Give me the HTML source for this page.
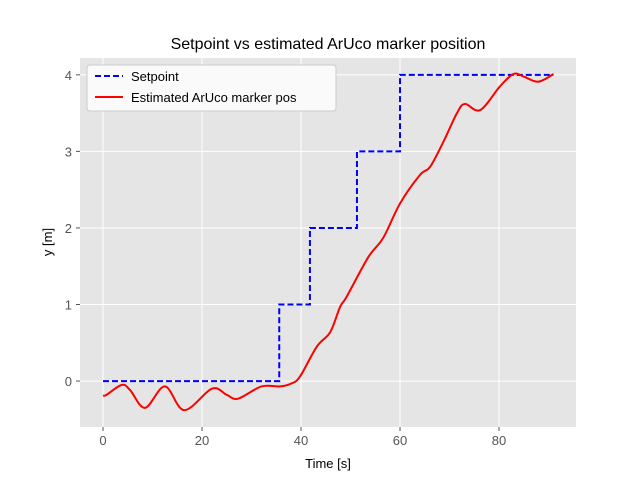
<!DOCTYPE html>
<html><head><meta charset="utf-8"><style>
body{margin:0;background:#fff;}
svg{font-family:"Liberation Sans","DejaVu Sans",sans-serif;}
</style></head><body>
<svg id="chart" width="640" height="480">
<rect x="0" y="0" width="640" height="480" fill="#fff"/>
<rect x="80" y="58" width="496" height="369" fill="#e5e5e5"/>
<g id="grid"></g><g id="ticks"></g>
<g id="series"></g>
<text x="328" y="49" text-anchor="middle" font-size="16" fill="#000">Setpoint vs estimated ArUco marker position</text>
<text x="328" y="468" text-anchor="middle" font-size="13" fill="#000">Time [s]</text>
<text x="52" y="242" text-anchor="middle" font-size="13" fill="#000" transform="rotate(-90 52 242)">y [m]</text>
<g>
<rect x="87" y="65" width="249" height="46" rx="3" fill="#fafafa" stroke="#ccc"/>
<line x1="95" y1="76" x2="123" y2="76" stroke="#0000ff" stroke-width="2" stroke-dasharray="6,3"/>
<text x="131" y="81" font-size="13">Setpoint</text>
<line x1="95" y1="97" x2="123" y2="97" stroke="#ff0000" stroke-width="2"/>
<text x="131" y="102" font-size="13">Estimated ArUco marker pos</text>
</g>
</svg>
<script>
const xTicks=[0,20,40,60,80];
const yTicks=[0,1,2,3,4];
const spT=[0,35.6,35.6,41.8,41.8,51.3,51.3,60,60,91];
const spY=[0,0,1,1,2,2,3,3,4,4];
const estT=[0,0.7,3.8,5.5,8.5,12.5,16.4,22,25,27.3,32,35.8,38.1,39.8,43.2,45.9,47.9,49.2,53.6,56.6,60,64,66.1,68.8,71.5,73.1,76.2,80.2,82.9,84.9,87.9,91];
const estY=[-0.19,-0.18,-0.05,-0.12,-0.35,-0.07,-0.38,-0.10,-0.18,-0.23,-0.07,-0.07,-0.03,0.06,0.45,0.64,0.97,1.10,1.62,1.87,2.32,2.69,2.80,3.13,3.50,3.62,3.54,3.85,4.01,3.98,3.91,4.01];
const X0=80,X1=576,Y0=427,Y1=58,xmin=-4.65,xmax=95.55,ymin=-0.60,ymax=4.22;
const sx=v=>X0+(v-xmin)/(xmax-xmin)*(X1-X0);
const sy=v=>Y0-(v-ymin)/(ymax-ymin)*(Y0-Y1);
const NS="http://www.w3.org/2000/svg";
function mk(t,a,p){const e=document.createElementNS(NS,t);for(const k in a)e.setAttribute(k,a[k]);p.appendChild(e);return e;}
const grid=document.getElementById('grid'),ticks=document.getElementById('ticks'),ser=document.getElementById('series');
xTicks.forEach(v=>{const x=sx(v);
const g=mk('line',{x1:x,x2:x,y1:Y1,y2:Y0,stroke:'#fff','stroke-width':1},grid);

const tk=mk('line',{x1:x,x2:x,y1:Y0,y2:Y0+4,stroke:'#555'},ticks);

const t=mk('text',{x:x,y:Y0+18,'text-anchor':'middle','font-size':13,fill:'#555'},ticks);t.textContent=v;
});
yTicks.forEach(v=>{const y=sy(v);
const g=mk('line',{x1:X0,x2:X1,y1:y,y2:y,stroke:'#fff','stroke-width':1},grid);

const tk=mk('line',{x1:X0-4,x2:X0,y1:y,y2:y,stroke:'#555'},ticks);

const t=mk('text',{x:X0-8,y:y+5,'text-anchor':'end','font-size':13,fill:'#555'},ticks);t.textContent=v;
});
const sp=mk('polyline',{points:spT.map((t,i)=>sx(t)+','+sy(spY[i])).join(' '),fill:'none',stroke:'#0000ff','stroke-width':2,'stroke-dasharray':'6,3'},ser);

const P=estT.map((t,i)=>[sx(t),sy(estY[i])]);
let d='M'+P[0][0]+','+P[0][1];
for(let i=0;i<P.length-1;i++){const p0=P[Math.max(i-1,0)],p1=P[i],p2=P[i+1],p3=P[Math.min(i+2,P.length-1)];
d+=' C'+(p1[0]+(p2[0]-p0[0])/6)+','+(p1[1]+(p2[1]-p0[1])/6)+' '+(p2[0]-(p3[0]-p1[0])/6)+','+(p2[1]-(p3[1]-p1[1])/6)+' '+p2[0]+','+p2[1];}
const es=mk('path',{d:d,fill:'none',stroke:'#ff0000','stroke-width':2},ser);

</script>
</body></html>
